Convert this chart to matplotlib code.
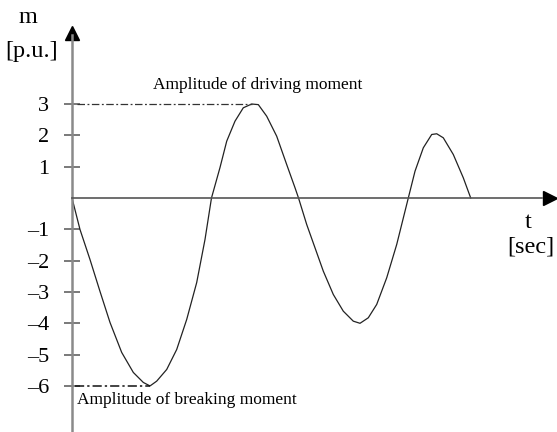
import matplotlib
matplotlib.use("Agg")
import matplotlib.pyplot as plt

# ---- data ----
t_vals = [0.000, 0.255, 0.574, 0.894, 1.213, 1.586, 1.957, 2.276, 2.490, 2.703,
          3.023, 3.342, 3.661, 3.980, 4.245, 4.452, 4.724, 4.938, 5.202, 5.467,
          5.736, 5.947, 6.214, 6.533, 6.852, 7.118, 7.230, 7.491, 7.756, 8.021,
          8.340, 8.659, 8.978, 9.193, 9.457, 9.725, 10.045, 10.364, 10.629, 10.734,
          10.948, 11.213, 11.481, 11.641, 11.851, 12.170, 12.489, 12.726]
m_vals = [0.000, -1.005, -1.963, -2.984, -3.973, -4.930, -5.569, -5.888, -6.000, -5.847,
          -5.474, -4.836, -3.878, -2.700, -1.325, 0.000, 0.973, 1.813, 2.451, 2.879,
          3.000, 2.980, 2.611, 1.973, 1.069, 0.326, 0.000, -0.846, -1.590, -2.336,
          -3.080, -3.613, -3.932, -4.000, -3.824, -3.399, -2.547, -1.484, -0.421, 0.000,
          0.855, 1.602, 2.027, 2.050, 1.921, 1.388, 0.645, 0.000]
y_ticks = [-6, -5, -4, -3, -2, -1, 1, 2, 3]
drive_amp = 3
drive_t = 5.74
brake_amp = -6
brake_t = 2.49

plt.rcParams['font.family'] = ['Liberation Serif', 'DejaVu Serif']

fig = plt.figure(figsize=(5.57, 4.32), dpi=100)
ax = fig.add_axes([0, 0, 1, 1])
ax.set_xlim(-2.298, 15.48)
ax.set_ylim(-7.47, 6.32)

for s in ('top', 'right'):
    ax.spines[s].set_visible(False)
ax.spines['left'].set_position(('data', 0))
ax.spines['bottom'].set_position(('data', 0))
ax.spines['left'].set_bounds(-7.47, 5.2)
ax.spines['bottom'].set_bounds(0, 15.0)
ax.spines['left'].set_color('#8a8a8a')
ax.spines['left'].set_linewidth(1.8)
ax.spines['bottom'].set_color('#555555')
ax.spines['bottom'].set_linewidth(1.2)

ax.set_xticks([])
ax.set_yticks(y_ticks)
ax.set_yticklabels([f"\u2013{abs(v)}" if v < 0 else str(v) for v in y_ticks])
ax.tick_params(axis='y', direction='inout', length=11, width=1.1, color='#555555',
               labelsize=16, pad=11)

# arrows
ax.plot(0, 5.27, marker='^', markersize=9.5, color='black', clip_on=False)
ax.plot(15.27, 0, marker='>', markersize=10, color='black', clip_on=False)

# curve
ax.plot(t_vals, m_vals, color='#222222', linewidth=0.9)

# amplitude reference lines
ax.plot([0.15, drive_t], [drive_amp, drive_amp], color='#333333', linewidth=0.9,
        linestyle=(0, (6, 2, 1.5, 2)))
ax.plot([0.1, brake_t], [brake_amp, brake_amp], color='#111111', linewidth=1.1,
        linestyle=(0, (6, 2, 1.5, 2)))

ax.text(2.585, 3.61, "Amplitude of driving moment", fontsize=12.5, ha='left', va='center')
ax.text(0.16, -6.45, "Amplitude of breaking moment", fontsize=12.5, ha='left', va='center')

ax.text(-1.40, 5.75, "m", fontsize=17.5, ha='center', va='center')
ax.text(-1.28, 4.69, "[p.u.]", fontsize=17.5, ha='center', va='center')
ax.text(14.55, -0.77, "t", fontsize=17.5, ha='center', va='center')
ax.text(14.65, -1.55, "[sec]", fontsize=17.5, ha='center', va='center')

fig.savefig("out.png", dpi=100)
